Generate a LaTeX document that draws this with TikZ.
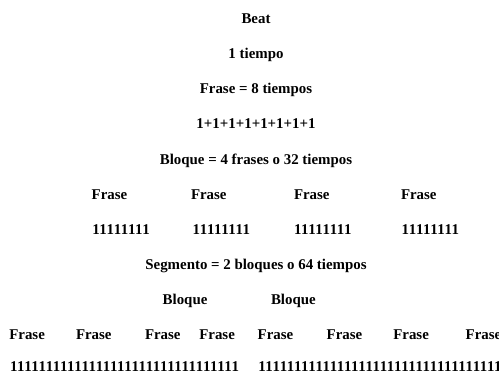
\documentclass[tikz,border=0pt]{standalone}
\usepackage{fontspec}
\setmainfont{Liberation Serif}
\begin{document}
\begin{tikzpicture}[x=1pt,y=-1pt,
  txt/.style={inner sep=0pt,outer sep=0pt,font=\fontsize{14.9}{17}\selectfont\bfseries},
  ctr/.style={txt,anchor=base},
  lft/.style={txt,anchor=base west},
  ones/.style={lft,font=\fontsize{14.9}{17}\selectfont\bfseries\addfontfeature{LetterSpace=3.5}}]
\useasboundingbox (0,0) rectangle (499,374);
\node[ctr] (beat) at (256,23.5) {Beat};
\node[ctr] (tiempo) at (256,58.7) {1 tiempo};
\node[ctr] (frase8) at (256,94) {Frase = 8 tiempos};
\node[ctr] (suma) at (256,129) {1+1+1+1+1+1+1+1};
\node[ctr] (bloque4) at (256,164.2) {Bloque = 4 frases o 32 tiempos};
\node[lft] (fa) at (91.7,199.5) {Frase};
\node[lft] (fb) at (191,199.5) {Frase};
\node[lft] (fc) at (294,199.5) {Frase};
\node[lft] (fd) at (401,199.5) {Frase};
\node[ones] (ua) at (92.3,234.7) {11111111};
\node[ones] (ub) at (192.7,234.7) {11111111};
\node[ones] (uc) at (294,234.7) {11111111};
\node[ones] (ud) at (401.7,234.7) {11111111};
\node[ctr] (segmento) at (256,270) {Segmento = 2 bloques o 64 tiempos};
\node[lft] (ba) at (162.7,305) {Bloque};
\node[lft] (bb) at (271,305) {Bloque};
\node[lft] (g1) at (9.3,340) {Frase};
\node[lft] (g2) at (76,340) {Frase};
\node[lft] (g3) at (145,340) {Frase};
\node[lft] (g4) at (199.3,340) {Frase};
\node[lft] (g5) at (257.7,340) {Frase};
\node[lft] (g6) at (326.7,340) {Frase};
\node[lft] (g7) at (393.3,340) {Frase};
\node[lft] (g8) at (465.7,340) {Frase};
\node[ones] (la) at (10,371.5) {11111111111111111111111111111111};
\node[ones] (lb) at (258.3,371.5) {1111111111111111111111111111111111};
\end{tikzpicture}
\end{document}
